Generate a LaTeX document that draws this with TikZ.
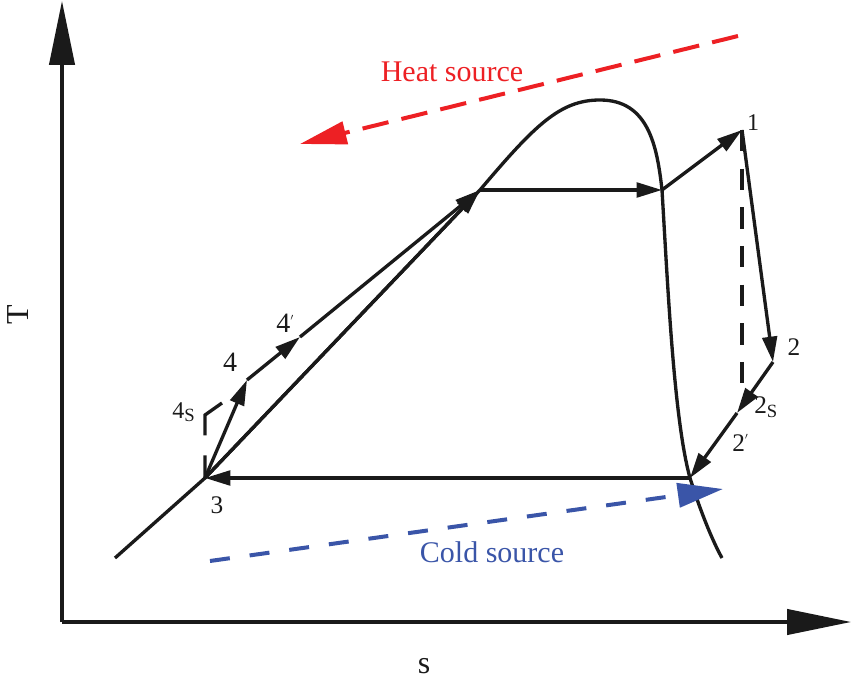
\documentclass[tikz,border=0pt]{standalone}
\usepackage{fontspec}
\setmainfont{Liberation Serif}
\usetikzlibrary{arrows.meta}
\definecolor{ink}{HTML}{1A1A1A}
\definecolor{heatred}{HTML}{ED2024}
\definecolor{coldblue}{HTML}{3A55A8}
\tikzset{
  proc/.style={draw=ink, line width=2.5pt, line join=round},
  tip/.style={-{Triangle[length=19pt,width=11pt]}},
  axis/.style={draw=ink, line width=2.4pt, -{Triangle[length=48pt,width=19pt]}},
  dashblk/.style={draw=ink, line width=2.5pt, dash pattern=on 16pt off 13pt},
  heat/.style={draw=heatred, line width=3pt, dash pattern=on 20pt off 10pt, -{Triangle[length=35pt,width=17pt]}},
  cold/.style={draw=coldblue, line width=3pt, dash pattern=on 15pt off 15pt, -{Triangle[length=34pt,width=18pt]}},
  lbl/.style={inner sep=0pt, text=ink, anchor=base},
}
\begin{document}
\begin{tikzpicture}[x=0.75pt,y=-0.75pt]
\useasboundingbox (0,0) rectangle (852,680);
% axes
\coordinate (O) at (62,622);
\coordinate (Ytip) at (62,1);
\coordinate (Xtip) at (851,622);
\draw[axis] (O) -- (Ytip);
\draw[axis] (O) -- (Xtip);
\node[lbl, anchor=center, rotate=90, font=\fontsize{24}{28}\selectfont] (T) at (18,315) {T};
\node[lbl, font=\fontsize{24}{28}\selectfont] (S) at (424,673) {s};
% key points
\coordinate (p3) at (205,478);
\coordinate (p4) at (247,380);
\coordinate (p4p) at (300,337);
\coordinate (pL) at (480,190);
\coordinate (pV) at (662,190);
\coordinate (p1) at (742,130);
\coordinate (p2) at (773,362);
\coordinate (p2s) at (737,413);
\coordinate (pE) at (690,478);
\coordinate (d2s) at (742,390);
\coordinate (s4a) at (205,415);
\coordinate (s4b) at (222,403);
\coordinate (domeA) at (115,558);
\coordinate (domeB) at (722,558);
% saturation dome
\draw[proc] (domeA) -- (p3) -- (pL)
  .. controls (535,125) and (560,100) .. (600,100)
  .. controls (648,100) and (657,145) .. (pV)
  .. controls (668,290) and (674,420) .. (pE)
  .. controls (700,510) and (712,540) .. (domeB);
% cycle
\draw[proc, tip] (p3) -- (p4);
\draw[proc, tip] (p4) -- (p4p);
\draw[proc, tip] (p4p) -- (pL);
\draw[proc, tip] (p3) -- (pL);
\draw[proc, tip] (pL) -- (pV);
\draw[proc, tip] (pV) -- (p1);
\draw[proc, tip] (p1) -- (p2);
\draw[proc, tip] (p2) -- (p2s);
\draw[proc, tip] (p2s) -- (pE);
\draw[proc, tip] (pE) -- (p3);
\draw[dashblk] (p1) -- (d2s);
\draw[dashblk, dash pattern=on 17pt off 15pt on 32pt off 15pt] (p3) -- (s4a) -- (s4b);
% sources
\coordinate (h1) at (738,36);
\coordinate (h2) at (300,144);
\draw[heat] (h1) -- (h2);
\node[lbl, text=heatred, font=\fontsize{22.5}{26}\selectfont] (heatlbl) at (452,82) {Heat source};
\coordinate (c1) at (210,561);
\coordinate (c2) at (723,489);
\draw[cold] (c1) -- (c2);
\node[lbl, text=coldblue, font=\fontsize{22.5}{26}\selectfont] (coldlbl) at (492,562) {Cold source};
% point labels
\node[lbl, font=\fontsize{18}{20}\selectfont] (l1) at (753,131) {1};
\node[lbl, font=\fontsize{19}{20}\selectfont] (l2) at (794,356) {2};
\node[lbl, anchor=base west, font=\fontsize{19}{20}\selectfont] (l2s) at (754,413) {2\raisebox{-0.35ex}{\fontsize{14}{16}\selectfont S}};
\node[lbl, anchor=base west, font=\fontsize{19}{20}\selectfont] (l2p) at (732,451) {2\raisebox{0.55ex}{\fontsize{10}{12}\selectfont $'$}};
\node[lbl, font=\fontsize{19}{22}\selectfont] (l3) at (217,513) {3};
\node[lbl, font=\fontsize{21}{24}\selectfont] (l4) at (230,372) {4};
\node[lbl, anchor=base west, font=\fontsize{21}{24}\selectfont] (l4p) at (276,333) {4\raisebox{0.6ex}{\fontsize{10}{12}\selectfont $'$}};
\node[lbl, anchor=base west, font=\fontsize{18}{20}\selectfont] (l4s) at (172,418) {4\raisebox{-0.35ex}{\fontsize{14}{16}\selectfont S}};
\end{tikzpicture}
\end{document}
